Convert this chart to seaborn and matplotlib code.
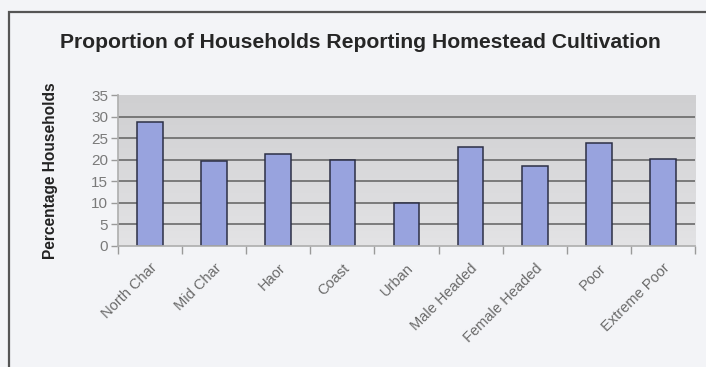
import numpy as np
import pandas as pd
import matplotlib
matplotlib.use("Agg")
import matplotlib.pyplot as plt
import seaborn as sns
from matplotlib.patches import Rectangle
from matplotlib.colors import LinearSegmentedColormap

categories = ["North Char", "Mid Char", "Haor", "Coast", "Urban",
              "Male Headed", "Female Headed", "Poor", "Extreme Poor"]
values = [28.8, 19.7, 21.4, 20.0, 10.0, 22.9, 18.6, 23.9, 20.2]
y_ticks = [0, 5, 10, 15, 20, 25, 30, 35]

df = pd.DataFrame({"group": categories, "pct": values})

sns.set_theme(style="white")
plt.rcParams["font.family"] = ["Liberation Sans", "DejaVu Sans"]

fig = plt.figure(figsize=(7.06, 3.67), dpi=100, facecolor="#f3f4f7")
ax = fig.add_axes([0.1671, 0.3305, 0.8173, 0.4106])

# outer chart frame
fig.patches.append(Rectangle((9 / 706, -0.1), 1.0, 1 - 12 / 367 + 0.1,
                             transform=fig.transFigure, fill=False,
                             edgecolor="#555555", linewidth=1.6, zorder=0))

# gradient plot-area background
grad = LinearSegmentedColormap.from_list("bg", ["#cfcfd1", "#e3e3e5"])
ax.imshow(np.linspace(0, 1, 256).reshape(-1, 1), aspect="auto", cmap=grad,
          extent=[-0.5, len(categories) - 0.5, 0, 35], zorder=0)

for t in y_ticks[1:-1]:
    ax.axhline(t, color="#606060", linewidth=1.1, zorder=1)

sns.barplot(data=df, x="group", y="pct", ax=ax, color="#98a3de",
            width=0.4, edgecolor="#2c2f45", linewidth=1.1, zorder=2,
            saturation=1)

ax.set_xlim(-0.5, len(categories) - 0.5)
ax.set_ylim(0, 35)
ax.set_yticks(y_ticks)
ax.set_yticklabels([str(t) for t in y_ticks], color="#7a7a7a", fontsize=11)
ax.set_xticks(range(len(categories)))
ax.set_xticklabels(categories, rotation=45, ha="right", rotation_mode="anchor",
                   color="#6a6a6a", fontsize=10.5)
ax.set_xticks(np.arange(-0.5, len(categories), 1.0), minor=True)
ax.tick_params(axis="x", which="major", length=0, pad=11)
ax.tick_params(axis="x", which="minor", length=6, color="#9a9a9a", width=1,
               direction="out", bottom=True)
ax.tick_params(axis="y", length=5, color="#9a9a9a", width=1, left=True, pad=2)

for side in ["top", "right"]:
    ax.spines[side].set_visible(False)
ax.spines["left"].set_color("#b0b0b0")
ax.spines["bottom"].set_color("#b0b0b0")

ax.set_xlabel("")
ax.set_ylabel("Percentage Households", fontsize=11.2, fontweight="bold",
              color="#222222", labelpad=24)

fig.text(0.511, 0.885, "Proportion of Households Reporting Homestead Cultivation",
         ha="center", va="center", fontsize=15.2, fontweight="bold",
         color="#262626")

fig.savefig("out.png", dpi=100, facecolor=fig.get_facecolor())
